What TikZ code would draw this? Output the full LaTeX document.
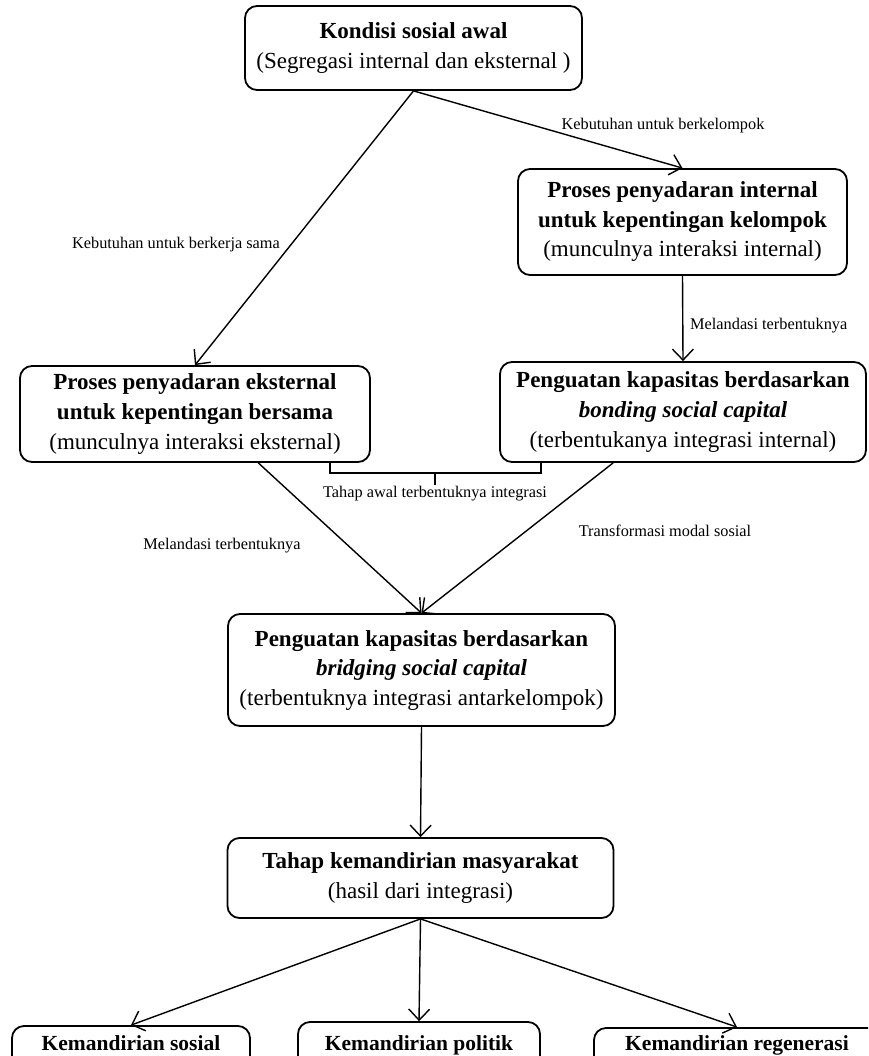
\documentclass[tikz,border=0pt]{standalone}
\usepackage{fontspec}
\setmainfont{Liberation Serif}
\usetikzlibrary{arrows.meta,calc}
\tikzset{
  box/.style={draw, line width=1.8pt, rounded corners=12pt, align=center, inner sep=0pt,
    font=\fontsize{23}{29.5}\selectfont},
  bbox/.style={box, anchor=base, text depth=30pt, font=\fontsize{21.5}{26}\selectfont},
  lab/.style={inner sep=0pt, font=\fontsize{16.3}{19}\selectfont},
  arr/.style={line width=1.4pt, -{Straight Barb[length=11pt,width=21pt,line width=1.4pt]}},
  brk/.style={line width=1.4pt},
}
\begin{document}
\begin{tikzpicture}[x=1pt,y=-1pt]
\useasboundingbox (0,0) rectangle (868,1056);
\clip (0,0) rectangle (868,1056);
% boxes
\node[box, minimum width=337pt, minimum height=84pt] (top) at (413.5,48)
  {\textbf{Kondisi sosial awal}\\(Segregasi internal dan eksternal )};
\node[box, minimum width=329pt, minimum height=106pt] (int) at (682.5,222)
  {\textbf{Proses penyadaran internal}\\\textbf{untuk kepentingan kelompok}\\(munculnya interaksi internal)};
\node[box, minimum width=350pt, minimum height=96pt] (ext) at (195,414)
  {\textbf{Proses penyadaran eksternal}\\\textbf{untuk kepentingan bersama}\\(munculnya interaksi eksternal)};
\node[box, minimum width=366pt, minimum height=100pt] (bond) at (683,412)
  {\textbf{Penguatan kapasitas berdasarkan}\\\textbf{\textit{bonding social capital}}\\(terbentukanya integrasi internal)};
\node[box, minimum width=387pt, minimum height=112pt] (bridge) at (421.5,670)
  {\textbf{Penguatan kapasitas berdasarkan}\\\textbf{\textit{bridging social capital}}\\(terbentuknya integrasi antarkelompok)};
\node[box, minimum width=386pt, minimum height=80pt] (tahap) at (420.5,878)
  {\textbf{Tahap kemandirian masyarakat}\\(hasil dari integrasi)};
\node[bbox, minimum width=238pt, text height=24pt] (b1) at (131,1050) {\textbf{Kemandirian sosial}};
\node[bbox, minimum width=242pt, text height=28pt] (b2) at (419,1050) {\textbf{Kemandirian politik}};
\node[bbox, minimum width=286pt, text height=22pt] (b3) at (737,1050) {\textbf{Kemandirian regenerasi}};
% connectors
\draw[arr] (top.south) -- (ext.north);
\draw[arr] (top.south) -- (int.north);
\draw[arr] (int.south) -- (bond.north);
\draw[arr] ($(ext.south west)!0.68!(ext.south east)$) -- (bridge.north);
\draw[arr] ($(bond.south west)!0.31!(bond.south east)$) -- (bridge.north);
\draw[arr] (bridge.south) -- (tahap.north);
\draw[arr] (tahap.south) -- (b1.north);
\draw[arr] (tahap.south) -- (b2.north);
\draw[arr] (tahap.south) -- (b3.north);
% bracket
\coordinate (bkl) at (330,462);
\coordinate (bkr) at (541,462);
\coordinate (bkm) at (435,473);
\draw[brk] (bkl) |- (bkr |- bkm) -- (bkr);
\draw[brk] (bkm) -- ++(0,12) coordinate (bkt);
% labels
\node[lab] (l1) at (176,245) {Kebutuhan untuk berkerja sama};
\node[lab] (l2) at (663,126) {Kebutuhan untuk berkelompok};
\node[lab, anchor=west] (l3) at (690,326) {Melandasi terbentuknya};
\node[lab] (l4) at (435,494) {Tahap awal terbentuknya integrasi};
\node[lab] (l5) at (222,546) {Melandasi terbentuknya};
\node[lab] (l6) at (665,531) {Transformasi modal sosial};
\end{tikzpicture}
\end{document}
